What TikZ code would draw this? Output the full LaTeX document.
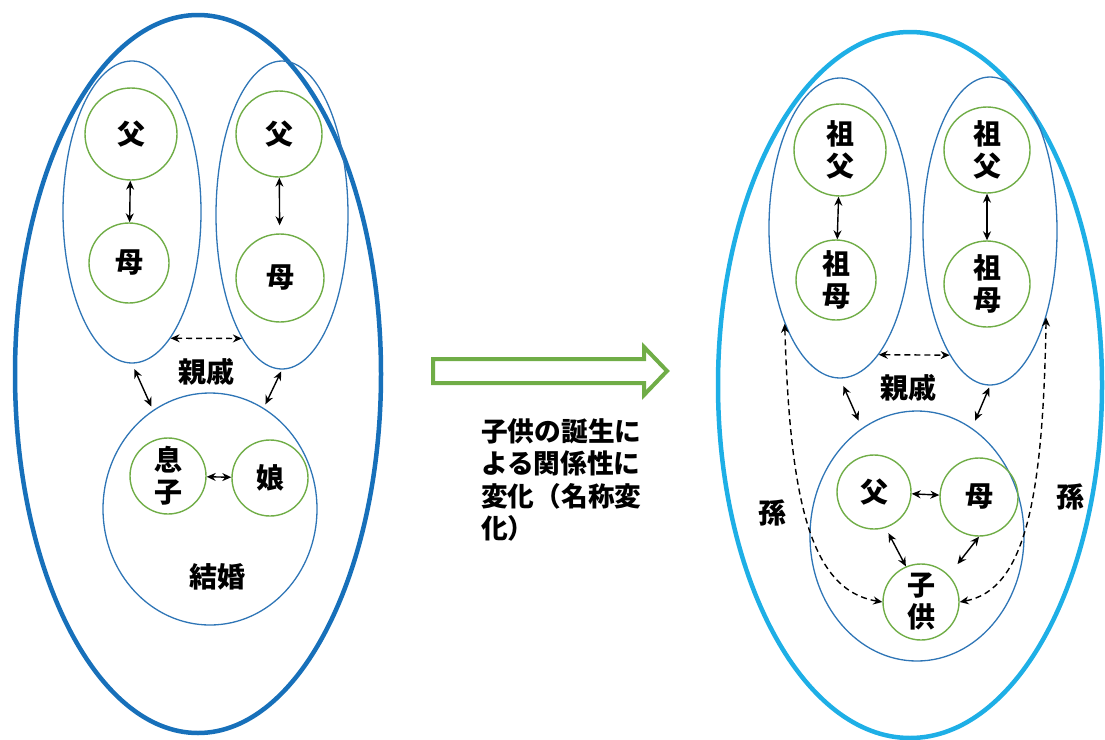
\documentclass[tikz,border=0pt]{standalone}
\usepackage{fontspec}
\setmainfont{Noto Sans CJK JP}
\usetikzlibrary{shapes.geometric,arrows.meta}
\definecolor{outerL}{RGB}{23,112,186}
\definecolor{outerR}{RGB}{30,175,230}
\definecolor{ringblue}{RGB}{46,117,182}
\definecolor{grn}{RGB}{112,173,71}
\begin{document}
\begin{tikzpicture}[x=1pt, y=-1pt, font=\fontsize{28}{32}\selectfont\bfseries,
  member/.style={circle, draw=grn, line width=1.4pt, inner sep=0pt, align=center},
  couple/.style={ellipse, draw=ringblue, line width=1.3pt, inner sep=0pt},
  family/.style={ellipse, line width=4.5pt, inner sep=0pt},
  link/.style={{Stealth[length=9pt,width=8pt]}-{Stealth[length=9pt,width=8pt]}, line width=1.4pt},
  kin/.style={link, dash pattern=on 6pt off 4pt}]
  \useasboundingbox (0,0) rectangle (1105,739);

  % Define left family
  \node[family, draw=outerL, minimum width=366pt, minimum height=718pt] (famL) at (198,374) {};
  \node[couple, minimum width=138pt, minimum height=302pt] (lp) at (132,212) {};
  \node[couple, minimum width=132pt, minimum height=308pt] (rp) at (282,215) {};
  \node[couple, minimum width=214pt, minimum height=232pt] (mar) at (210,509) {};
  \node[member, minimum size=92pt] (lf) at (131,134) {父};
  \node[member, minimum size=80pt] (lm) at (129,263) {母};
  \node[member, minimum size=86pt] (rf) at (279,134) {父};
  \node[member, minimum size=88pt] (rm) at (280,278) {母};
  \node[member, minimum size=76pt] (son) at (168,476) {息\\子};
  \node[member, minimum size=76pt] (dau) at (270,478) {娘};
  \node (relL) at (206,372) {親戚};
  \node (marL) at (217,577) {結婚};

  % Draw left links
  \draw[link] (lf) -- (lm);
  \draw[link, shorten >=8pt] (rf) -- (rm);
  \draw[kin] (lp.-73) -- (rp.-108);
  \draw[link, shorten <=6pt, shorten >=4pt] (lp.south) -- (mar.120);
  \draw[link, shorten <=2pt, shorten >=4pt] (rp.south) -- (mar.62);
  \draw[link] (son) -- (dau);

  % Change arrow and note
  \draw[draw=grn, line width=4pt, line join=miter] (433,359) -- (644,359) -- (644,347) -- (667,371)
    -- (644,395) -- (644,383) -- (433,383) -- cycle;
  \node[anchor=north west, inner sep=0pt, align=left, font=\fontsize{26.7}{32.5}\selectfont\bfseries]
    (note) at (481,418) {子供の誕生に\\よる関係性に\\変化（名称変\\化）};

  % Define right family
  \node[family, draw=outerR, minimum width=384pt, minimum height=706pt] (famR) at (910,385) {};
  \node[couple, minimum width=142pt, minimum height=300pt] (lq) at (840,228) {};
  \node[couple, minimum width=134pt, minimum height=308pt] (rq) at (990,231) {};
  \node[couple, minimum width=214pt, minimum height=250pt] (mar2) at (917,536) {};
  \node[member, minimum size=92pt] (lgf) at (840,150) {祖\\父};
  \node[member, minimum size=80pt] (lgm) at (836,280) {祖\\母};
  \node[member, minimum size=86pt] (rgf) at (987,150) {祖\\父};
  \node[member, minimum size=86pt] (rgm) at (987,284) {祖\\母};
  \node[member, minimum size=74pt] (dad) at (874,492) {父};
  \node[member, minimum size=78pt] (mom) at (979,497) {母};
  \node[member, minimum size=76pt] (kid) at (921,602) {子\\供};
  \node (relR) at (908,388) {親戚};
  \node (gcL) at (772,513) {孫};
  \node (gcR) at (1070,497) {孫};

  % Draw right links
  \draw[link] (lgf) -- (lgm);
  \draw[link] (rgf) -- (rgm);
  \draw[kin] (lq.-73) -- (rq.-108);
  \draw[link, shorten <=8pt, shorten >=8pt] (lq.south) -- (mar2.117);
  \draw[link, shorten <=2pt, shorten >=8pt] (rq.south) -- (mar2.63);
  \draw[link] (dad) -- (mom);
  \draw[link, shorten <=6pt] (dad.-72) -- (kid.113);
  \draw[link, shorten >=14pt] (mom.south) -- (kid.44);
  \draw[kin] (lq.-120) .. controls (790,500) and (810,590) .. (kid.west);
  \draw[kin] (rq.-57) .. controls (1043,500) and (1025,590) .. (kid.east);

\end{tikzpicture}
\end{document}
